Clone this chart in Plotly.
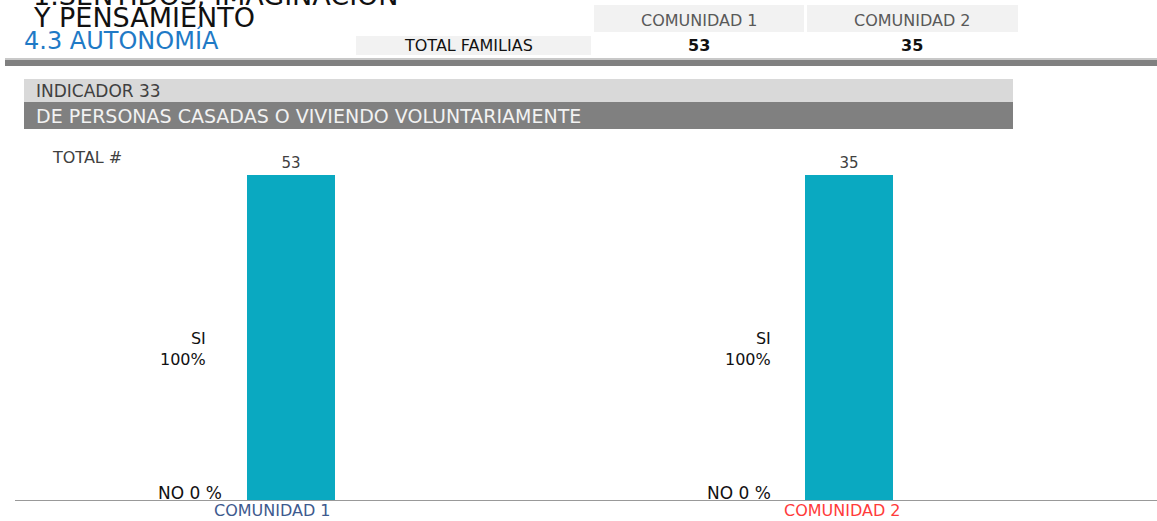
import plotly.graph_objects as go

# datos
comunidades = ["COMUNIDAD 1", "COMUNIDAD 2"]
total_familias = [53, 35]
si_pct = [100, 100]
no_pct = [0, 0]

titulo_1 = "1.SENTIDOS, IMAGINACIÓN"
titulo_2 = "Y PENSAMIENTO"
subtitulo = "4.3 AUTONOMÍA"
indicador = "INDICADOR 33"
descripcion = "DE PERSONAS CASADAS O VIVIENDO VOLUNTARIAMENTE"

W, H = 1157, 521
L, T, B = 15, 140, 21
PW, PH = W - L, H - T - B

FONT = "DejaVu Sans"
BAR_COLOR = "#0aa9c1"
LABEL_COLORS = ["#3e5a8e", "#ff3b3b"]


def px(x):
    # pixel horizontal -> coordenada paper
    return (x - L) / PW


def py(y):
    # pixel vertical -> coordenada paper
    return (H - B - y) / PH


fig = go.Figure()

fig.add_trace(go.Bar(
    x=comunidades,
    y=si_pct,
    width=0.158,
    marker=dict(color=BAR_COLOR, line=dict(width=0)),
    text=[str(v) for v in total_familias],
    textposition="outside",
    textfont=dict(family=FONT, size=15, color="#404040"),
    cliponaxis=False,
    showlegend=False,
))

shapes = []
annotations = []


def rect(x0, y0, x1, y1, color):
    shapes.append(dict(type="rect", xref="paper", yref="paper",
                       x0=px(x0), x1=px(x1), y0=py(y0), y1=py(y1),
                       fillcolor=color, line=dict(width=0), layer="below"))


def texto(x, y, s, size, color, anchor="left", family=FONT):
    annotations.append(dict(xref="paper", yref="paper", x=px(x), y=py(y),
                            text=s, showarrow=False, xanchor=anchor, yanchor="middle",
                            align="right" if anchor == "right" else "left",
                            font=dict(family=family, size=size, color=color)))


# cabecera (la primera línea queda cortada arriba, como en el original)
texto(31, -5, titulo_1, 27, "#111111")
texto(31, 17, titulo_2, 27, "#111111")
texto(22, 40, subtitulo, 24, "#1f7ac6")

# tabla de totales
rect(594, 5, 804, 32, "#f2f2f2")
rect(807, 5, 1018, 32, "#f2f2f2")
rect(356, 36, 591, 55, "#f2f2f2")
texto(699, 20, comunidades[0], 16, "#595959", "center")
texto(912, 20, comunidades[1], 16, "#595959", "center")
texto(468, 45, "TOTAL FAMILIAS", 16, "#111111", "center")
texto(699, 45, f"<b>{total_familias[0]}</b>", 16, "#111111", "center")
texto(912, 45, f"<b>{total_familias[1]}</b>", 16, "#111111", "center")

# barra separadora
rect(5, 58, W, 60, "#c8c8c8")
rect(5, 60, W, 66, "#808080")

# indicador
rect(24, 79, 1013, 102, "#d9d9d9")
rect(24, 102, 1013, 129, "#808080")
texto(34, 91, indicador, 17, "#404040")
texto(34, 116, descripcion, 19, "#f2f2f2")

texto(50, 157, "TOTAL #", 16, "#404040")

# etiquetas SI / NO y nombres de comunidad
si_right = [208, 773]
no_right = [224, 773]
name_center = [272, 842]
for i, c in enumerate(comunidades):
    texto(si_right[i], 349, f"SI<br>{si_pct[i]}%", 16, "#111111", "right")
    texto(no_right[i], 493, f"NO {no_pct[i]} %", 17, "#111111", "right")
    texto(name_center[i], 511, c, 16, LABEL_COLORS[i], "center")

fig.update_layout(
    width=W, height=H,
    margin=dict(l=L, r=0, t=T, b=B),
    paper_bgcolor="white",
    plot_bgcolor="white",
    shapes=shapes,
    annotations=annotations,
    xaxis=dict(range=[-0.4946, 1.552], showticklabels=False, ticks="",
               showline=True, linecolor="#999999", linewidth=1, showgrid=False,
               zeroline=False, fixedrange=True),
    yaxis=dict(range=[0, 110.77], visible=False, showgrid=False, fixedrange=True),
    bargap=0,
)

fig.write_html("out.html", config={"displayModeBar": False},
               post_script="document.body.style.margin='0px';")
